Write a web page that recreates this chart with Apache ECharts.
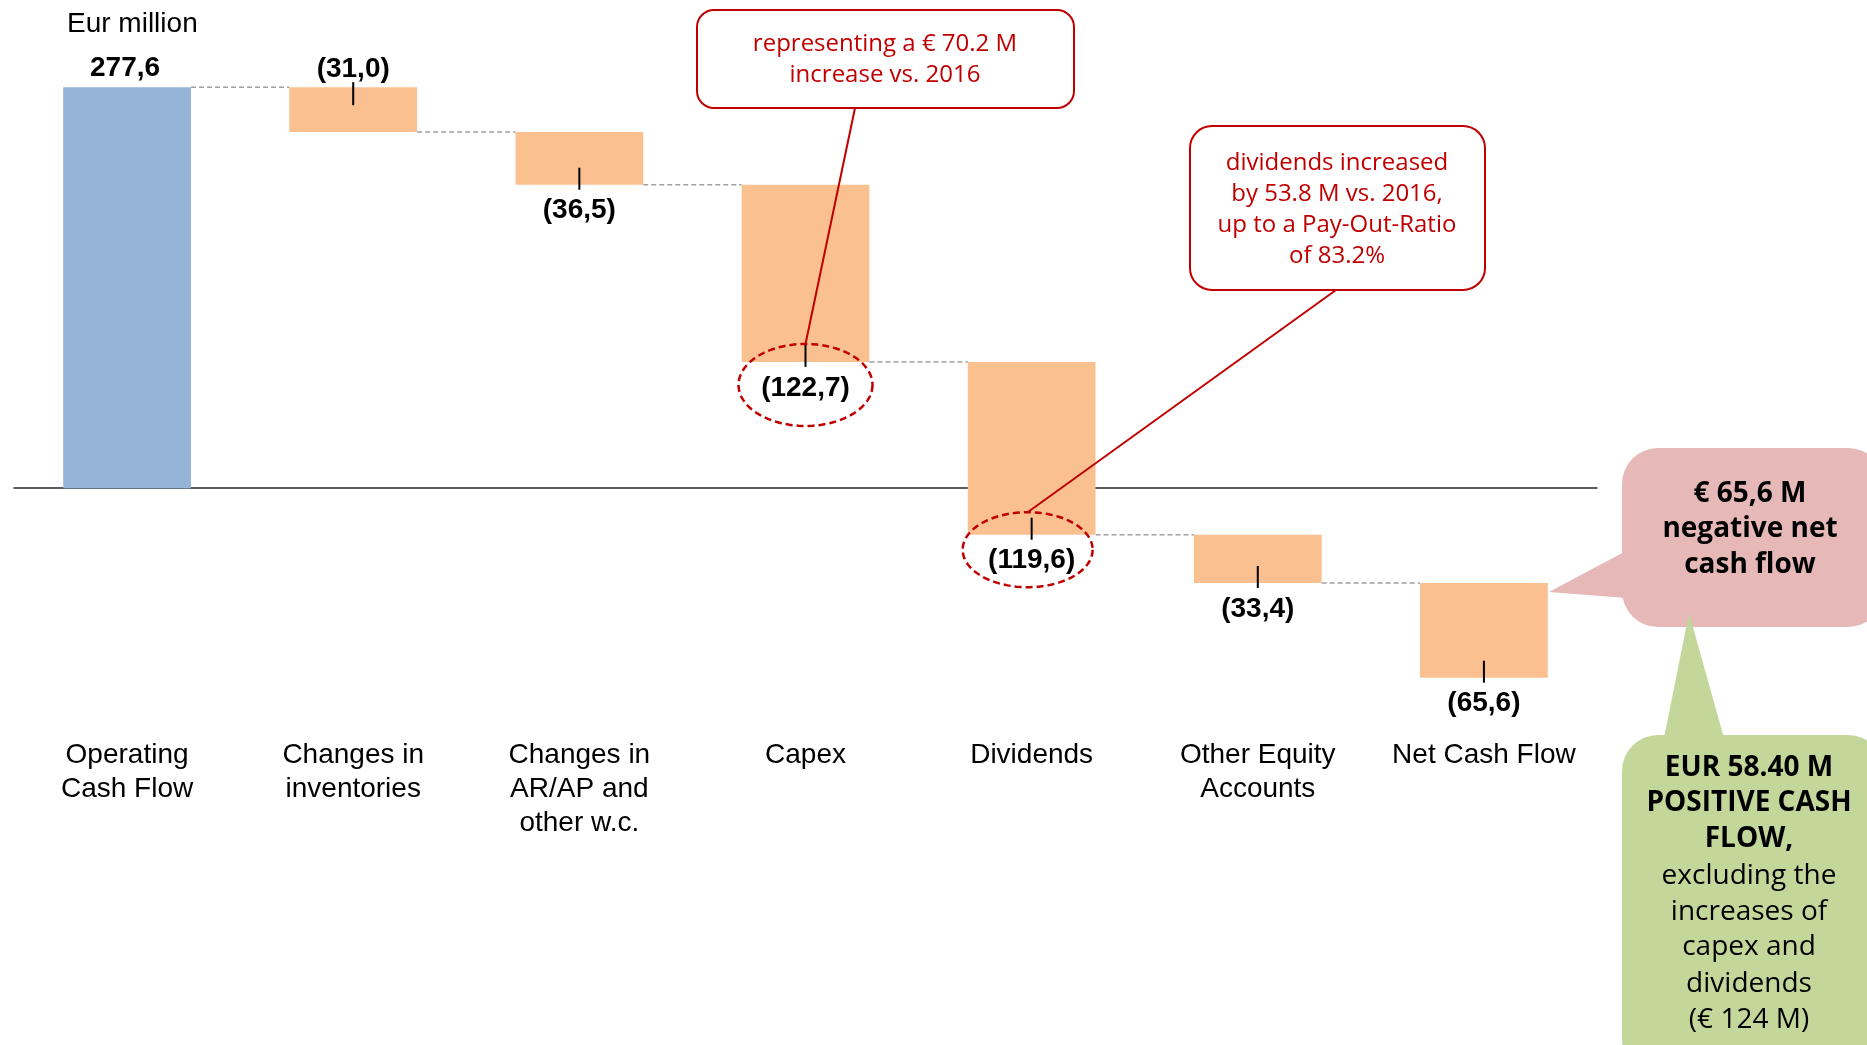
<!DOCTYPE html>
<html>
<head>
<meta charset="utf-8">
<script src="https://cdn.jsdelivr.net/npm/echarts@6/dist/echarts.min.js"></script>
<style>
html, body { margin: 0; padding: 0; background: #fff; }
#main { width: 1867px; height: 1045px; }
</style>
</head>
<body>
<div id="main"></div>
<script>
// cash flow bridge, Eur million
var categories = ['Operating\nCash Flow', 'Changes in\ninventories', 'Changes in\nAR/AP and\nother w.c.', 'Capex', 'Dividends', 'Other Equity\nAccounts', 'Net Cash Flow'];
var values = [277.6, -31.0, -36.5, -122.7, -119.6, -33.4, -65.6];
var valueLabels = ['277,6', '(31,0)', '(36,5)', '(122,7)', '(119,6)', '(33,4)', '(65,6)'];
var labelAbove = [true, true, false, false, false, false, false];

// running totals -> floating bars
var starts = [];
var ends = [];
var run = 0;
for (var i = 0; i < values.length; i++) {
  starts.push(run);
  run = Math.round((run + values[i]) * 10) / 10;
  ends.push(run);
}

var barData = categories.map(function (c, i) { return [i, starts[i], ends[i]]; });
var linkData = [];
for (var i = 0; i < values.length - 1; i++) linkData.push([i, ends[i]]);

// dashed red rings round two of the labels (offset from bar bottom, radii)
var rings = {
  3: { dx: 0, dy: 23, rx: 67, ry: 41 },
  4: { dx: -4, dy: 15, rx: 65, ry: 37.5 }
};

var BAR_RATIO = 0.565;
var RED = '#C00000';

function ellipsePoints(cx, cy, rx, ry) {
  var pts = [];
  for (var k = 0; k < 90; k++) {
    var a = k / 90 * Math.PI * 2;
    pts.push([cx + rx * Math.cos(a), cy + ry * Math.sin(a)]);
  }
  return pts;
}

function renderBar(params, api) {
  var i = api.value(0);
  var p0 = api.coord([i, api.value(1)]);
  var p1 = api.coord([i, api.value(2)]);
  var w = api.size([1, 0])[0] * BAR_RATIO;
  var x = p0[0];
  var top = Math.min(p0[1], p1[1]);
  var bot = Math.max(p0[1], p1[1]);
  var kids = [{
    type: 'rect',
    shape: { x: x - w / 2, y: top, width: w, height: bot - top },
    style: { fill: i === 0 ? '#95B3D7' : '#FAC090' }
  }];
  var ty;
  if (i === 0) {
    ty = top - 19;
  } else if (labelAbove[i]) {
    kids.push({ type: 'line', shape: { x1: x, y1: top - 5, x2: x, y2: top + 18 }, style: { stroke: '#000', lineWidth: 2 } });
    ty = top - 18;
  } else {
    kids.push({ type: 'line', shape: { x1: x, y1: bot - 17, x2: x, y2: bot + 5 }, style: { stroke: '#000', lineWidth: 2 } });
    ty = bot + 26;
  }
  kids.push({
    type: 'text', x: x - (i === 0 ? 2 : 0), y: ty,
    style: { text: valueLabels[i], fill: '#000', fontSize: 28, fontWeight: 'bold', fontFamily: 'Liberation Sans', align: 'center', verticalAlign: 'middle' }
  });
  var r = rings[i];
  if (r) {
    kids.push({
      type: 'polygon', z2: 10,
      shape: { points: ellipsePoints(x + r.dx, bot + r.dy, r.rx, r.ry) },
      style: { fill: null, stroke: RED, lineWidth: 2.5, lineDash: [7, 4] }
    });
  }
  return { type: 'group', children: kids };
}

function renderLink(params, api) {
  var i = api.value(0);
  var a = api.coord([i, api.value(1)]);
  var b = api.coord([i + 1, api.value(1)]);
  var w = api.size([1, 0])[0] * BAR_RATIO;
  return {
    type: 'line',
    shape: { x1: a[0] + w / 2, y1: a[1], x2: b[0] - w / 2, y2: b[1] },
    style: { stroke: '#A0A0A0', lineWidth: 1.5, lineDash: [5, 3] }
  };
}

var chart = echarts.init(document.getElementById('main'));

var option = {
  animation: false,
  backgroundColor: '#fff',
  grid: { left: 14, width: 1583, top: 54.85, height: 678.9 },
  xAxis: [
    {
      type: 'category', data: categories, position: 'bottom',
      axisLine: { onZero: true, lineStyle: { color: '#262626', width: 1.5 } },
      axisTick: { show: false }, axisLabel: { show: false }
    },
    {
      type: 'category', data: categories, position: 'bottom',
      axisLine: { show: false, onZero: false }, axisTick: { show: false },
      axisLabel: { color: '#000', fontSize: 28, fontFamily: 'Liberation Sans', lineHeight: 34, margin: 5, interval: 0 }
    }
  ],
  yAxis: { type: 'value', min: -170, max: 300, show: false },
  series: [
    { type: 'custom', name: 'links', xAxisIndex: 0, renderItem: renderLink, data: linkData, z: 1 },
    { type: 'custom', name: 'bars', xAxisIndex: 0, renderItem: renderBar, data: barData, z: 2 }
  ]
};
chart.setOption(option);

// call-outs
function txt(x, y, s, size, weight, color) {
  return { type: 'text', x: x, y: y, z: 20,
    style: { text: s, fill: color, fontSize: size, fontWeight: weight, fontFamily: 'Open Sans', align: 'center', verticalAlign: 'middle' } };
}

var capexRing = chart.convertToPixel({ xAxisIndex: 0, yAxisIndex: 0 }, [3, ends[3]]);
var divRing = chart.convertToPixel({ xAxisIndex: 0, yAxisIndex: 0 }, [4, ends[4]]);

var g = [
  { type: 'text', left: 67, top: 10, style: { text: 'Eur million', fill: '#000', fontSize: 28, fontFamily: 'Liberation Sans' } },
  // red note boxes
  { type: 'rect', z: 15, shape: { x: 697, y: 10, width: 377, height: 98, r: 17 }, style: { fill: '#fff', stroke: RED, lineWidth: 2 } },
  txt(885, 44, 'representing a € 70.2 M', 24, 'normal', RED),
  txt(885, 75, 'increase vs. 2016', 24, 'normal', RED),
  { type: 'rect', z: 15, shape: { x: 1190, y: 126, width: 295, height: 164, r: 22 }, style: { fill: '#fff', stroke: RED, lineWidth: 2 } },
  txt(1337, 163, 'dividends increased', 24, 'normal', RED),
  txt(1337, 194, 'by 53.8 M vs. 2016,', 24, 'normal', RED),
  txt(1337, 225, 'up to a Pay-Out-Ratio', 24, 'normal', RED),
  txt(1337, 256, 'of 83.2%', 24, 'normal', RED),
  { type: 'line', z: 14, shape: { x1: 855, y1: 108, x2: capexRing[0] + rings[3].dx, y2: capexRing[1] + rings[3].dy - rings[3].ry }, style: { stroke: RED, lineWidth: 2 } },
  { type: 'line', z: 14, shape: { x1: 1336, y1: 290, x2: divRing[0] + rings[4].dx, y2: divRing[1] + rings[4].dy - rings[4].ry }, style: { stroke: RED, lineWidth: 2 } },
  // pink call-out
  { type: 'polygon', z: 16, shape: { points: [[1626, 551], [1549, 592], [1626, 598]] }, style: { fill: '#E6B8B7' } },
  { type: 'rect', z: 16, shape: { x: 1622, y: 448, width: 262, height: 179, r: 36 }, style: { fill: '#E6B8B7' } },
  txt(1750, 494, '€ 65,6 M', 28, 'bold', '#000'),
  txt(1750, 529, 'negative net', 28, 'bold', '#000'),
  txt(1750, 565, 'cash flow', 28, 'bold', '#000'),
  // green call-out
  { type: 'polygon', z: 17, shape: { points: [[1664, 738], [1689, 613], [1724, 738]] }, style: { fill: '#C4D79B' } },
  { type: 'rect', z: 17, shape: { x: 1622, y: 735, width: 262, height: 340, r: 36 }, style: { fill: '#C4D79B' } }
];
var greenLines = ['EUR 58.40 M', 'POSITIVE CASH', 'FLOW,', 'excluding the', 'increases of', 'capex and', 'dividends', '(€ 124 M)'];
var greenY = [768, 803, 839, 876, 912, 947, 984, 1020];
for (var k = 0; k < greenLines.length; k++) {
  g.push(txt(1749, greenY[k], greenLines[k], 28, k < 3 ? 'bold' : 'normal', '#000'));
}
chart.setOption({ graphic: g });
</script>
</body>
</html>
